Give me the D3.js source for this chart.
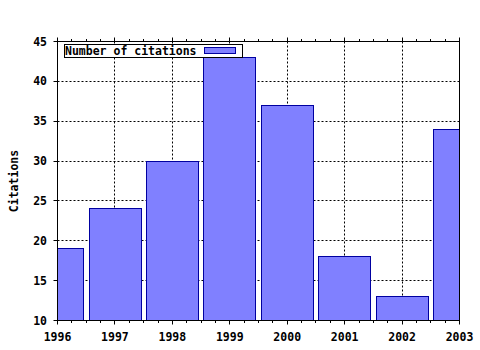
<!DOCTYPE html>
<html>
<head>
<meta charset="utf-8">
<script src="https://cdn.jsdelivr.net/npm/d3@7"></script>
<style>
  body { margin: 0; background: #fff; }
  text { font-family: "DejaVu Sans Mono", monospace; font-weight: bold; font-size: 11.5px; fill: #000; }
</style>
</head>
<body>
<svg width="480" height="350"></svg>
<script>
  const years = [1996, 1997, 1998, 1999, 2000, 2001, 2002, 2003];
  const citations = [19, 24, 30, 43, 37, 18, 13, 34];
  const yTicks = [10, 15, 20, 25, 30, 35, 40, 45];
  const seriesName = "Number of citations";

  const svg = d3.select("svg");
  const pLeft = 57.5, pRight = 459.5, pTop = 41.5, pBottom = 320.5;

  const x = d3.scaleLinear().domain([1996, 2003]).range([pLeft, pRight]);
  const y = d3.scaleLinear().domain([10, 45]).range([pBottom, pTop]);
  const barW = (x(1997) - x(1996)) * 0.9;
  const snap = v => Math.round(v - 0.5) + 0.5;

  svg.append("defs").append("clipPath").attr("id", "plot")
    .append("rect")
    .attr("x", pLeft).attr("y", pTop)
    .attr("width", pRight - pLeft).attr("height", pBottom - pTop);

  // grid
  const grid = svg.append("g")
    .attr("stroke", "#000")
    .attr("stroke-width", 1)
    .attr("stroke-dasharray", "2,2");
  grid.selectAll(".gx").data(years.slice(1, -1)).enter().append("line")
    .attr("x1", d => snap(x(d))).attr("x2", d => snap(x(d)))
    .attr("y1", pTop).attr("y2", pBottom);
  grid.selectAll(".gy").data(yTicks.slice(1, -1)).enter().append("line")
    .attr("y1", d => snap(y(d))).attr("y2", d => snap(y(d)))
    .attr("x1", pLeft).attr("x2", pRight);

  // bars
  svg.append("g").attr("clip-path", "url(#plot)")
    .selectAll("rect").data(years).enter().append("rect")
    .attr("x", d => snap(x(d) - barW / 2))
    .attr("y", (d, i) => snap(y(citations[i])))
    .attr("width", Math.round(barW))
    .attr("height", (d, i) => pBottom - snap(y(citations[i])))
    .attr("fill", "#8080ff")
    .attr("stroke", "#0000a0")
    .attr("stroke-width", 1);

  // frame
  svg.append("rect")
    .attr("x", pLeft).attr("y", pTop)
    .attr("width", pRight - pLeft).attr("height", pBottom - pTop)
    .attr("fill", "none").attr("stroke", "#000");

  // x ticks (major + quarter minor), bottom and top
  const minor = d3.range(1996, 2003.01, 0.25);
  const ticks = svg.append("g").attr("stroke", "#000");
  ticks.selectAll(".tb").data(minor).enter().append("line")
    .attr("x1", d => snap(x(d))).attr("x2", d => snap(x(d)))
    .attr("y1", pBottom).attr("y2", d => pBottom + (d % 1 === 0 ? 4 : 2.5));
  ticks.selectAll(".tt").data(minor).enter().append("line")
    .attr("x1", d => snap(x(d))).attr("x2", d => snap(x(d)))
    .attr("y1", pTop).attr("y2", d => pTop - (d % 1 === 0 ? 4 : 2.5));
  ticks.selectAll(".ty").data(yTicks).enter().append("line")
    .attr("y1", d => snap(y(d))).attr("y2", d => snap(y(d)))
    .attr("x1", pLeft - 4).attr("x2", pLeft);

  // tick labels
  svg.selectAll(".xl").data(years).enter().append("text")
    .attr("x", d => x(d)).attr("y", 337)
    .attr("text-anchor", "middle").attr("dominant-baseline", "central")
    .text(d => d);
  svg.selectAll(".yl").data(yTicks).enter().append("text")
    .attr("x", 47).attr("y", d => y(d))
    .attr("text-anchor", "end").attr("dominant-baseline", "central")
    .text(d => d);

  svg.append("text")
    .attr("transform", "translate(14,181) rotate(-90)")
    .attr("text-anchor", "middle").attr("dominant-baseline", "central")
    .text("Citations");

  // legend
  const lg = svg.append("g");
  lg.append("rect")
    .attr("x", 64.5).attr("y", 44.5).attr("width", 178).attr("height", 13)
    .attr("fill", "#fff").attr("stroke", "#000");
  lg.append("text")
    .attr("x", 65).attr("y", 51).attr("dominant-baseline", "central")
    .text(seriesName);
  lg.append("rect")
    .attr("x", 204.5).attr("y", 47.5).attr("width", 31).attr("height", 6)
    .attr("fill", "#8080ff").attr("stroke", "#0000a0");
</script>
</body>
</html>
